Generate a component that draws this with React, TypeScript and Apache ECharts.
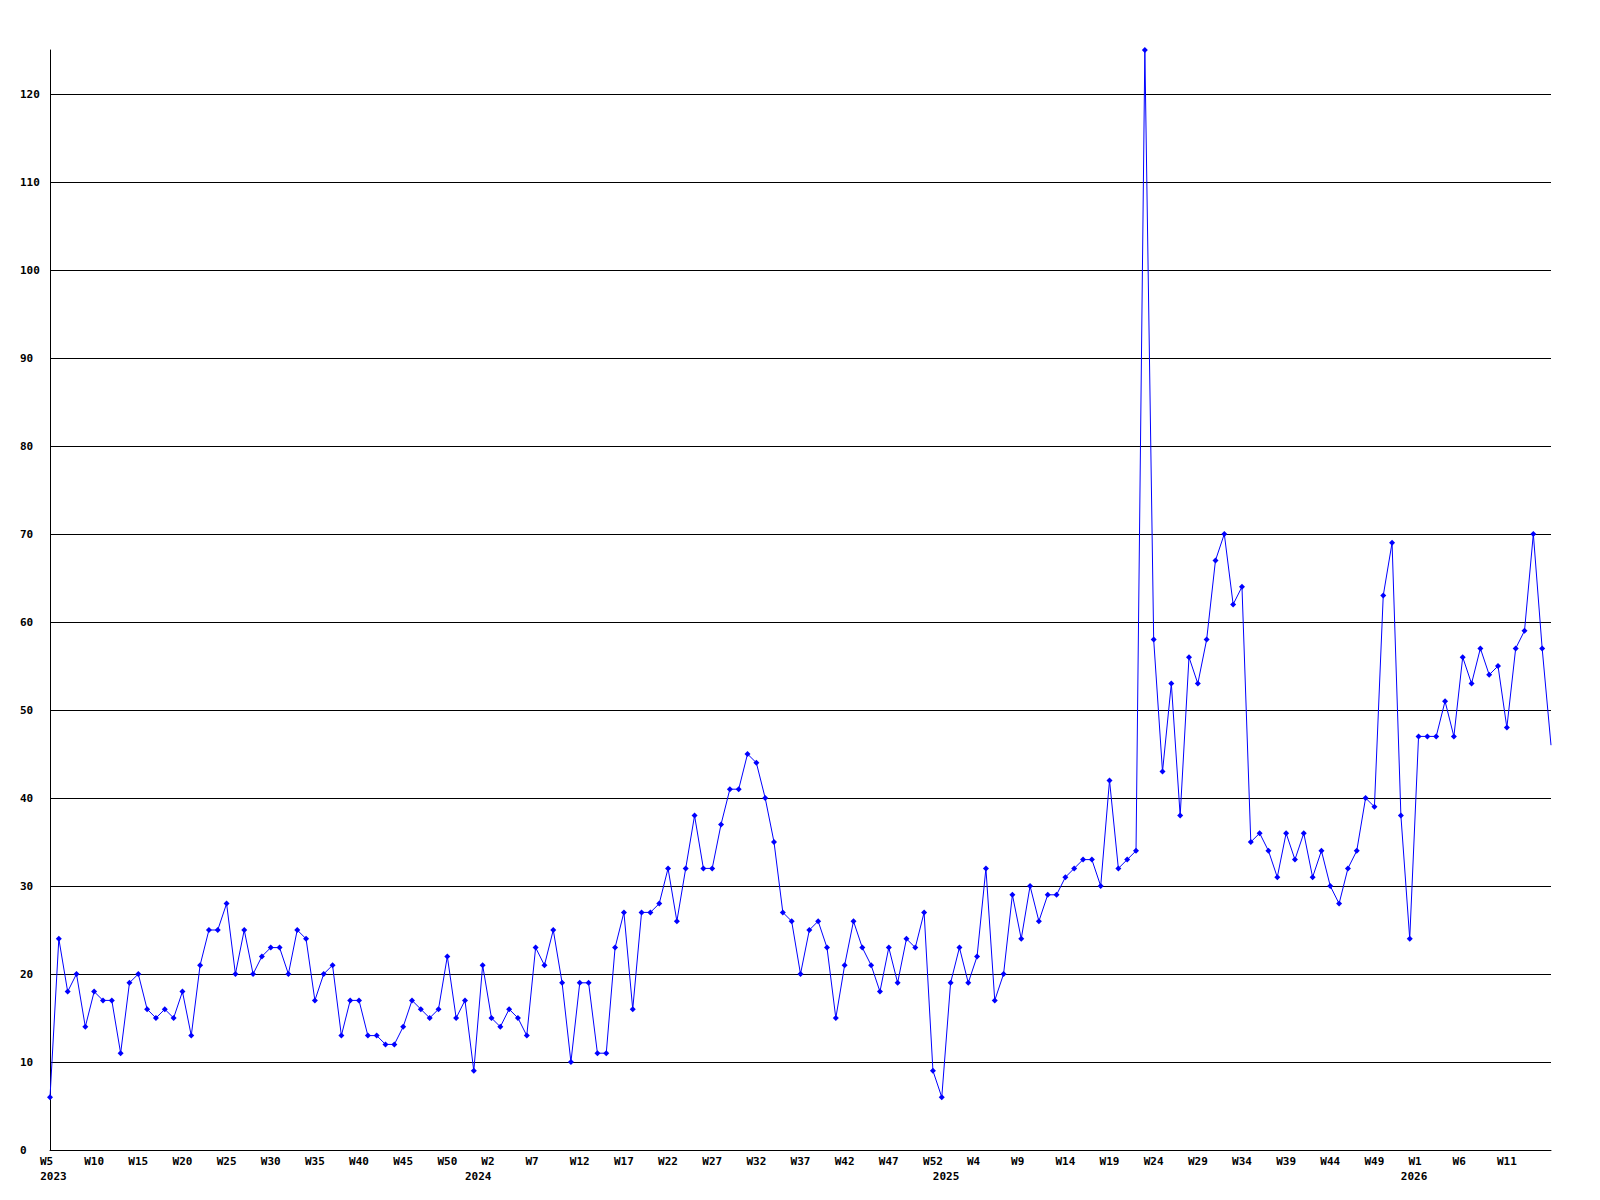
import { useEffect, useRef } from "react";
import * as echarts from "echarts";

// Week numbering of the source: each year runs from its first week to its last week
const years = [2023, 2024, 2025, 2026];
const firstWeeks = [5, 1, 1, 1];
const lastWeeks = [53, 53, 53, 16];

// Y axis
const yMin = 0;
const yMax = 125;
const yStep = 10;

// Weekly counts, W5 2023 .. W16 2026
const values2023a = [6, 24, 18, 20, 14, 18, 17, 17, 11, 19, 20, 16, 15, 16, 15, 18, 13, 21, 25, 25, 28, 20, 25, 20, 22, 23, 23, 20, 25];
const values2023b = [24, 17, 20, 21, 13, 17, 17, 13, 13, 12, 12, 14, 17, 16, 15, 16, 22, 15, 17, 9, 21, 15, 14, 16, 15, 13, 23, 21];
const values2024a = [25, 19, 10, 19, 19, 11, 11, 23, 27, 16, 27, 27, 28, 32, 26, 32, 38, 32, 32, 37, 41, 41, 45, 44, 40, 35, 27, 26, 20];
const values2024b = [25, 26, 23, 15, 21, 26, 23, 21, 18, 23, 19, 24, 23, 27, 9, 6, 19, 23, 19, 22, 32, 17, 20, 29, 24, 30, 26, 29, 29, 31, 32, 33, 33, 30, 42, 32, 33, 34];
const values2025 = [125, 58, 43, 53, 38, 56, 53, 58, 67, 70, 62, 64, 35, 36, 34, 31, 36, 33, 36, 31, 34, 30, 28, 32, 34, 40, 39, 63, 69, 38, 24, 47, 47, 47, 51, 47, 56, 53, 57, 54, 55, 48, 57, 59, 70, 57, 46];

const values = [...values2023a, ...values2023b, ...values2024a, ...values2024b, ...values2025];

const categories: string[] = [];
years.forEach((y, i) => {
  for (let w = firstWeeks[i]; w <= lastWeeks[i]; w++) categories.push(`${y}|W${w}`);
});

const FONT = "DejaVu Sans Mono";

export default function App() {
  const ref = useRef<HTMLDivElement>(null);
  useEffect(() => {
    if (!ref.current) return;
    const chart = echarts.init(ref.current, undefined, { renderer: "svg" });
    const last = categories.length - 1;
    const labelStyle = {
      fontFamily: FONT,
      fontWeight: "bold" as const,
      fontSize: 11,
      color: "#000",
    };
    const seriesData = values.map((v, i) => (i === last ? { value: v, symbol: "none" } : v));
    chart.setOption({
      animation: false,
      backgroundColor: "#ffffff",
      grid: { left: 50, right: 49, top: 50, bottom: 50, containLabel: false },
      xAxis: [
        {
          type: "category",
          data: categories,
          boundaryGap: false,
          axisLine: { show: true, lineStyle: { color: "#000", width: 1 } },
          axisTick: { show: false },
          splitLine: { show: false },
          axisLabel: {
            ...labelStyle,
            interval: 4,
            margin: 6,
            hideOverlap: false,
            formatter: (v: string, idx: number) => {
              if (idx === last) return "";
              const w = v.split("|")[1];
              return w.length < 3 ? `{s|${w}}` : `{n|${w}}`;
            },
            rich: {
              s: { ...labelStyle, padding: [0, 7, 0, 0] },
              n: { ...labelStyle },
            },
          },
        },
        {
          type: "category",
          data: categories,
          boundaryGap: false,
          position: "bottom",
          offset: 15,
          axisLine: { show: false },
          axisTick: { show: false },
          splitLine: { show: false },
          axisLabel: {
            ...labelStyle,
            margin: 6,
            hideOverlap: false,
            interval: (idx: number) => idx === 0 || categories[idx].split("|")[0] !== categories[idx - 1].split("|")[0],
            formatter: (v: string, idx: number) => {
              const y = v.split("|")[0];
              return idx === 0 ? `{f|${y}}` : `{y|${y}}`;
            },
            rich: {
              f: { ...labelStyle, padding: [0, 0, 0, 7] },
              y: { ...labelStyle, padding: [0, 9, 0, 0] },
            },
          },
        },
      ],
      yAxis: {
        type: "value",
        min: yMin,
        max: yMax,
        interval: yStep,
        axisLine: { show: true, lineStyle: { color: "#000", width: 1 } },
        axisTick: { show: false },
        splitLine: { show: true, showMaxLine: false, lineStyle: { color: "#000", width: 1 } },
        axisLabel: {
          ...labelStyle,
          align: "left",
          margin: 30,
          showMaxLabel: false,
          formatter: (v: number) => (v % yStep === 0 ? String(v) : ""),
        },
      },
      series: [
        {
          type: "line",
          data: seriesData,
          xAxisIndex: 0,
          symbol: "diamond",
          symbolSize: 6,
          showSymbol: true,
          showAllSymbol: true,
          clip: false,
          lineStyle: { color: "#0000ff", width: 1 },
          itemStyle: { color: "#0000ff" },
          emphasis: { disabled: true },
        },
      ],
    });
    return () => chart.dispose();
  }, []);
  return (
    <div
      ref={ref}
      style={{ position: "absolute", left: 0, top: 0, width: 1600, height: 1200 }}
    />
  );
}
